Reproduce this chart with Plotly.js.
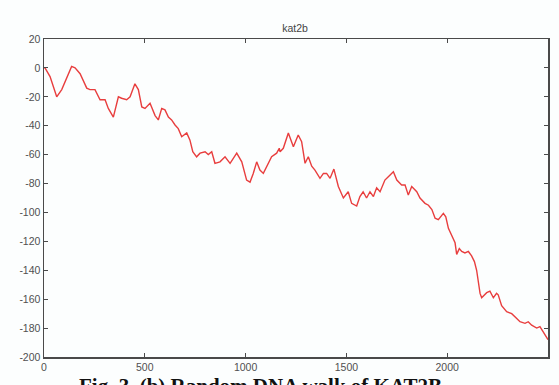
<!DOCTYPE html>
<html>
<head>
<meta charset="utf-8">
<script src="https://cdn.plot.ly/plotly-3.0.1.min.js"></script>
<style>html,body{margin:0;padding:0;background:#fcfefe;}#chart{width:559px;height:385px;}</style>
</head>
<body>
<div id="chart"></div>
<script>
const titleText = 'kat2b';
const captionText = 'Fig. 3. (b) Random DNA walk of KAT2B';

const walkX = [0,5,30,63,88,113,137,154,179,212,228,253,278,303,319,344,369,385,410,427,451,468,485,501,526,551,567,584,600,617,633,650,666,683,708,724,738,757,774,799,815,832,848,873,898,923,940,956,981,1005,1022,1038,1055,1071,1088,1105,1129,1154,1167,1171,1187,1212,1237,1261,1278,1295,1311,1328,1344,1369,1386,1402,1419,1438,1460,1485,1509,1526,1551,1567,1583,1600,1617,1634,1650,1667,1691,1708,1733,1750,1774,1791,1807,1824,1849,1865,1890,1907,1924,1940,1956,1981,1993,2006,2023,2039,2047,2060,2072,2088,2105,2121,2135,2146,2163,2171,2196,2212,2229,2245,2253,2270,2295,2320,2345,2361,2386,2402,2419,2444,2460,2477,2494,2500];
const walkY = [0,0,-6,-20,-15,-7,1,0,-4,-14,-15,-15,-22,-22,-28,-34,-20,-21,-22,-20,-11,-15,-27,-28,-24.5,-33,-36,-28,-29,-34,-36,-39.5,-42,-47.6,-45,-50,-58,-61.5,-59,-58,-60,-58,-66,-65,-61.5,-66,-62.6,-59,-65,-77.6,-79,-73,-65,-70.7,-73,-68,-61.5,-59,-55.6,-58,-55.6,-45,-54.5,-46.4,-51,-66,-61.5,-68,-70.7,-76.4,-73,-73,-76.4,-70,-82,-90,-85.7,-93.7,-95.6,-89,-85.7,-90,-85.7,-89,-83,-85.7,-77.6,-75.3,-71.8,-77.6,-81,-81,-88,-82,-85.7,-90,-93.7,-95,-98,-104,-105,-100.6,-103,-111,-116.8,-121,-129,-125,-127,-128,-127,-130,-134,-140,-156,-159,-155.5,-154.5,-159,-156,-157,-164.5,-168.7,-170,-173.3,-175.6,-176.7,-175.6,-178,-180,-179,-182.6,-186,-188];

const xTickVals = [0,500,1000,1500,2000,2500];
const xTickText = ['0','500','1000','1500','2000','2500'];
const yTickVals = [20,0,-20,-40,-60,-80,-100,-120,-140,-160,-180,-200];
const yTickText = ['20','0','-20','-40','-60','-80','-100','-120','-140','-160','-180','-200'];

const tickFont = {family:'Liberation Sans, Arial, sans-serif', size:10.5, color:'#505050'};
const axisCommon = {
  showgrid:false, zeroline:false, showline:true, linecolor:'#4a4a4a', linewidth:1.5,
  ticks:'inside', ticklen:4, tickwidth:1, tickcolor:'#4a4a4a', mirror:'ticks',
  tickfont:tickFont, tickmode:'array', fixedrange:true
};

Plotly.newPlot('chart', [{
  x: walkX, y: walkY, type:'scatter', mode:'lines',
  line:{color:'rgb(232,62,62)', width:1.4}, hoverinfo:'skip'
}], {
  width:559, height:385,
  margin:{l:44, r:11, t:39, b:28},
  paper_bgcolor:'#fcfefe', plot_bgcolor:'#fcfefe',
  showlegend:false,
  title:{text:titleText, x:295/559, xanchor:'center', xref:'container', y:1-28/385, yanchor:'middle', yref:'container',
         font:{family:'Liberation Sans, Arial, sans-serif', size:10.5, color:'#444'}},
  xaxis:Object.assign({}, axisCommon, {range:[0,2500], tickvals:xTickVals, ticktext:xTickText}),
  yaxis:Object.assign({}, axisCommon, {range:[-200,20], tickvals:yTickVals, ticktext:yTickText}),
  annotations:[{
    text:'<b>'+captionText+'</b>', xref:'paper', yref:'paper',
    x:(77-44)/504, xanchor:'left', y:-(372-357)/318, yanchor:'top',
    showarrow:false, font:{family:'Liberation Serif, Times New Roman, serif', size:21, color:'#111'}
  }]
}, {staticPlot:true});
</script>
</body>
</html>
